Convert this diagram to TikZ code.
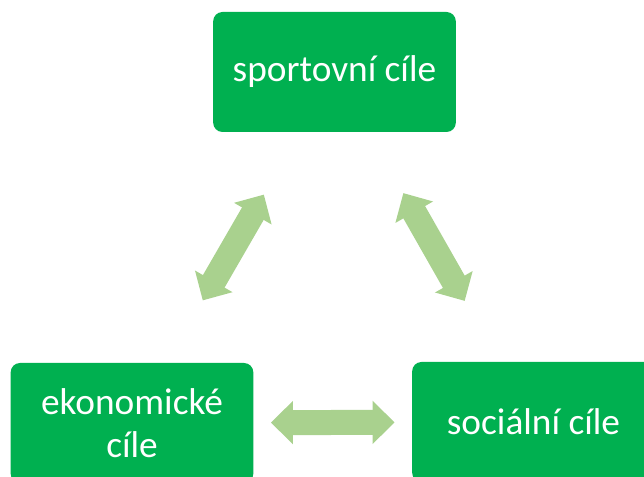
\documentclass[tikz,border=0pt]{standalone}
\usepackage{fontspec}
\setsansfont{Carlito}
\usepackage{tikz}
\usetikzlibrary{arrows.meta, positioning}
\definecolor{goalgreen}{RGB}{0,176,80}
\definecolor{linkgreen}{RGB}{169,209,142}
\tikzset{
    goalblock/.style={rectangle, fill=goalgreen, draw=none, rounded corners=7pt, minimum width=182pt, minimum height=90pt, align=center, text=white, font=\sffamily\fontsize{28}{32}\selectfont},
    goalarrow/.style={{Triangle[length=16.5pt, width=31.5pt]}-{Triangle[length=16.5pt, width=31.5pt]}, linkgreen, line width=18.75pt, shorten <=#1, shorten >=#1}
}

\begin{document}
\begin{tikzpicture}[x=0.75pt, y=-0.75pt]

\useasboundingbox (0,0) rectangle (644,477);
\clip (0,0) rectangle (644,477);

\node[goalblock] (sport) at (334.5,72) {sportovní cíle};
\node[goalblock] (ekon) at (132,423) {ekonomické\\cíle};
\node[goalblock] (social) at (533.5,422) {sociální cíle};

\draw[goalarrow=54pt] (ekon) -- (sport);
\draw[goalarrow=52.5pt] (sport) -- (social);
\draw[goalarrow=13pt] (ekon) -- (social);

\end{tikzpicture}
\end{document}
